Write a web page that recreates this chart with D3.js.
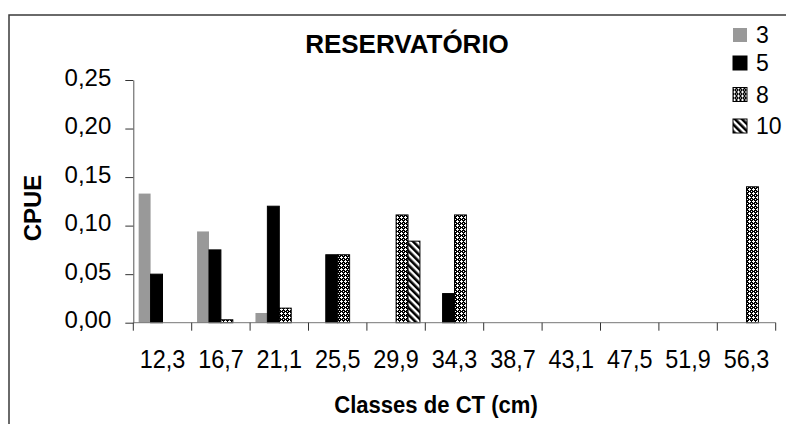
<!DOCTYPE html>
<html>
<head>
<meta charset="utf-8">
<script src="https://cdn.jsdelivr.net/npm/d3@7/dist/d3.min.js"></script>
<style>
  body { margin: 0; background: #fff; }
  svg { display: block; font-family: "Liberation Sans", Arial, Helvetica, sans-serif; }
</style>
</head>
<body>
<svg id="chart" width="786" height="424"></svg>
<script>
// Length classes (CT, cm) and CPUE per mesh size
const classes = ["12,3", "16,7", "21,1", "25,5", "29,9", "34,3", "38,7", "43,1", "47,5", "51,9", "56,3"];
const seriesNames = ["3", "5", "8", "10"];
const cpue3  = [0.133, 0.094, 0.010, 0, 0, 0, 0, 0, 0, 0, 0];
const cpue5  = [0.050, 0.075, 0.120, 0.070, 0, 0.030, 0, 0, 0, 0, 0];
const cpue8  = [0, 0.003, 0.015, 0.070, 0.111, 0.111, 0, 0, 0, 0, 0.140];
const cpue10 = [0, 0, 0, 0, 0.084, 0, 0, 0, 0, 0, 0];
const yTicks = [0, 0.05, 0.10, 0.15, 0.20, 0.25];

const seriesValues = [cpue3, cpue5, cpue8, cpue10];

const svg = d3.select("#chart");

// fills: solid grey, solid black, confetti, diagonal stripes
const defs = svg.append("defs");
const confetti = defs.append("pattern")
  .attr("id", "confetti").attr("patternUnits", "userSpaceOnUse")
  .attr("width", 4).attr("height", 4);
confetti.append("rect").attr("width", 4).attr("height", 4).attr("fill", "#000");
confetti.append("path").attr("d", "M1,0h1v1h1v1h-1v1h-1v-1h-1v-1h1z").attr("fill", "#fff");
confetti.append("rect").attr("x", 3).attr("y", 3).attr("width", 1).attr("height", 1).attr("fill", "#fff");

const stripes = defs.append("pattern")
  .attr("id", "stripes").attr("patternUnits", "userSpaceOnUse")
  .attr("width", 5).attr("height", 5)
  .attr("patternTransform", "rotate(-45)");
stripes.append("rect").attr("width", 5).attr("height", 5).attr("fill", "#fff");
stripes.append("rect").attr("width", 2.6).attr("height", 5).attr("fill", "#000");

const fills = ["#999999", "#000000", "url(#confetti)", "url(#stripes)"];
const strokes = ["none", "#000", "#000", "#000"];

// chart frame
svg.append("rect")
  .attr("x", 9).attr("y", 15).attr("width", 900).attr("height", 500)
  .attr("fill", "none").attr("stroke", "#3a3a3a").attr("stroke-width", 1.5);

const x0 = 133.3, x1 = 775.7, yBase = 322.7, yTop = 80;

const x = d3.scaleBand().domain(classes).range([x0, x1]).paddingInner(0).paddingOuter(0);
const xs = d3.scaleBand().domain(seriesNames).range([0, x.bandwidth()]).paddingInner(0).paddingOuter(0.45);
const y = d3.scaleLinear().domain([0, 0.25]).range([yBase, yTop]);

// bars
const groups = svg.append("g").selectAll("g")
  .data(seriesNames)
  .join("g")
  .attr("fill", (d, i) => fills[i])
  .attr("stroke", (d, i) => strokes[i])
  .attr("stroke-width", 1);

groups.selectAll("rect")
  .data((s, i) => classes.map((c, j) => ({ c, s, v: seriesValues[i][j] })).filter(d => d.v > 0))
  .join("rect")
  .attr("x", d => x(d.c) + xs(d.s))
  .attr("y", d => y(d.v))
  .attr("width", xs.bandwidth())
  .attr("height", d => yBase - y(d.v));

// y axis
const yAxis = svg.append("g")
  .attr("transform", `translate(${x0},0)`)
  .call(d3.axisLeft(y).tickValues(yTicks).tickSize(8).tickSizeOuter(0)
    .tickFormat(d => d3.format(".2f")(d).replace(".", ",")));
yAxis.select(".domain").attr("stroke", "#555");
yAxis.selectAll(".tick line").attr("stroke", "#333");
yAxis.selectAll(".tick text")
  .attr("x", -22).attr("dy", "0.22em")
  .attr("font-size", 24).attr("fill", "#000")
  .style("font-family", "'Liberation Sans', Arial, sans-serif");

// x axis: labels centred in each class, ticks on class boundaries
const xAxis = svg.append("g")
  .attr("transform", `translate(0,${yBase})`)
  .call(d3.axisBottom(x).tickSize(0).tickSizeOuter(0));
xAxis.select(".domain").attr("stroke", "#777").attr("d", `M${x0},0H${x1}`);
xAxis.selectAll(".tick text")
  .attr("y", 45.5).attr("dy", 0)
  .attr("font-size", 26).attr("fill", "#000")
  .attr("transform", "scale(0.9,1)")
  .style("font-family", "'Liberation Sans', Arial, sans-serif");

const boundaries = classes.map(c => x(c)).concat([x(classes[classes.length - 1]) + x.bandwidth()]);
xAxis.append("g").selectAll("line")
  .data(boundaries)
  .join("line")
  .attr("x1", d => d).attr("x2", d => d)
  .attr("y1", 0).attr("y2", 8)
  .attr("stroke", "#333").attr("stroke-width", 1);

// titles
svg.append("text")
  .attr("x", 407).attr("y", 53)
  .attr("text-anchor", "middle")
  .attr("font-size", 26).attr("font-weight", "bold")
  .text("RESERVATÓRIO");

svg.append("text")
  .attr("x", 436).attr("y", 413)
  .attr("text-anchor", "middle")
  .attr("font-size", 24).attr("font-weight", "bold")
  .attr("transform", "translate(436,0) scale(0.92,1) translate(-436,0)")
  .text("Classes de CT (cm)");

svg.append("text")
  .attr("transform", "translate(41,208) rotate(-90)")
  .attr("text-anchor", "middle")
  .attr("font-size", 24).attr("font-weight", "bold")
  .text("CPUE");

// legend
const legendY = [35, 63, 94.5, 126];
const legend = svg.append("g").selectAll("g")
  .data(seriesNames)
  .join("g")
  .attr("transform", (d, i) => `translate(733,${legendY[i]})`);
legend.append("rect")
  .attr("x", 0).attr("y", -7).attr("width", 14).attr("height", 14)
  .attr("fill", (d, i) => fills[i])
  .attr("stroke", (d, i) => strokes[i]);
legend.append("text")
  .attr("x", 23).attr("y", 0).attr("dy", "0.35em")
  .attr("font-size", 23)
  .text(d => d);
</script>
</body>
</html>
